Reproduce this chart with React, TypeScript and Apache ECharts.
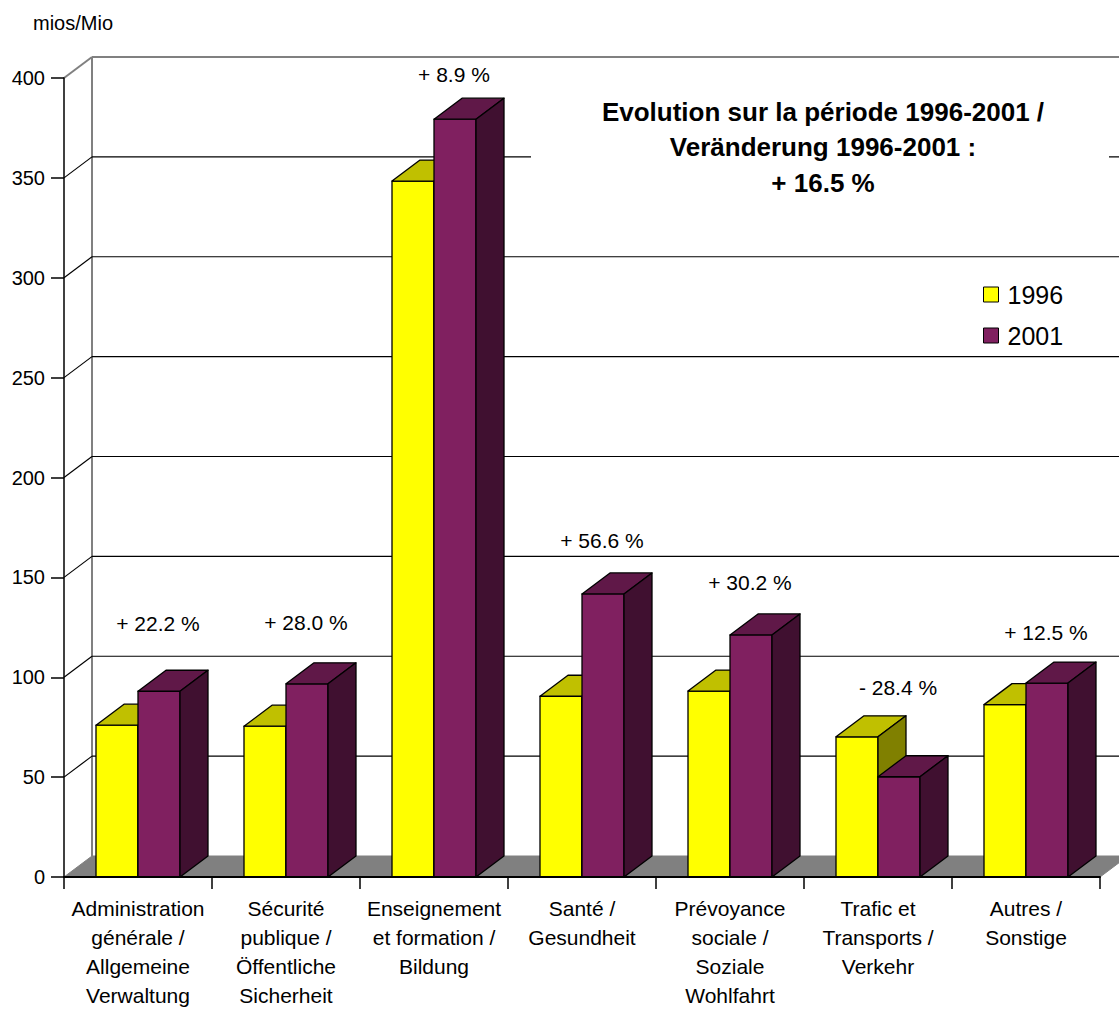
import React, { useEffect, useRef } from "react";
import * as echarts from "echarts";

const categories = [
  "Administration\ngénérale /\nAllgemeine\nVerwaltung",
  "Sécurité\npublique /\nÖffentliche\nSicherheit",
  "Enseignement\net formation /\nBildung",
  "Santé /\nGesundheit",
  "Prévoyance\nsociale /\nSoziale\nWohlfahrt",
  "Trafic et\nTransports /\nVerkehr",
  "Autres /\nSonstige",
];
const values1996 = [76, 75.5, 348.4, 90.5, 93.1, 70.2, 86.3];
const values2001 = [93, 96.7, 379.4, 141.7, 121.2, 50.2, 97.1];
const changeLabels = ["+ 22.2 %", "+ 28.0 %", "+ 8.9 %", "+ 56.6 %", "+ 30.2 %", "- 28.4 %", "+ 12.5 %"];
const yTicks = [0, 50, 100, 150, 200, 250, 300, 350, 400];
const unitLabel = "mios/Mio";
const titleText = "Evolution sur la période 1996-2001 /\nVeränderung 1996-2001 :\n+ 16.5 %";

// styling (not data)
const labelLift = [47, 40, 24, 32, 31, 28, 30];
const FONT = "'Liberation Sans', Arial, Helvetica, sans-serif";
const DX = 28;
const DY = -21;
const BAR_RATIO = 42 / 148;

const yellow = { front: "#FFFF00", top: "#C0C000", side: "#808000" };
const purple = { front: "#802060", top: "#601848", side: "#401030" };

function barSeries(name: string, values: number[], dir: number, c: any) {
  return {
    type: "custom",
    name,
    z: 3,
    clip: false,
    itemStyle: { color: c.front, borderColor: "#000", borderWidth: 1 },
    data: values.map((v, i) => [i, v]),
    encode: { x: 0, y: 1 },
    renderItem: (params: any, api: any) => {
      const idx = api.value(0);
      const v = api.value(1);
      const base = api.coord([idx, 0]);
      const top = api.coord([idx, v]);
      const band = api.size([1, 0])[0];
      const bw = band * BAR_RATIO;
      const x0 = dir < 0 ? base[0] - bw : base[0];
      const x1 = x0 + bw;
      const y0 = base[1];
      const y1 = top[1];
      const st = { stroke: "#000", lineWidth: 1.3, lineJoin: "round" };
      return {
        type: "group",
        children: [
          {
            type: "polygon",
            shape: { points: [[x0, y1], [x1, y1], [x1, y0], [x0, y0]] },
            style: { fill: c.front, ...st },
          },
          {
            type: "polygon",
            shape: { points: [[x0, y1], [x0 + DX, y1 + DY], [x1 + DX, y1 + DY], [x1, y1]] },
            style: { fill: c.top, ...st },
          },
          {
            type: "polygon",
            shape: { points: [[x1, y1], [x1 + DX, y1 + DY], [x1 + DX, y0 + DY], [x1, y0]] },
            style: { fill: c.side, ...st },
          },
        ],
      };
    },
  };
}

export default function App() {
  const ref = useRef<HTMLDivElement>(null);
  useEffect(() => {
    document.body.style.margin = "0";
    const chart = echarts.init(ref.current!, undefined, { renderer: "svg" });
    const option: any = {
      animation: false,
      backgroundColor: "#fff",
      textStyle: { fontFamily: FONT },
      grid: { left: 64, right: 19, top: 78, bottom: 133, containLabel: false, outerBoundsMode: "none" },
      legend: {
        data: ["1996", "2001"],
        orient: "vertical",
        left: 978,
        top: 277,
        itemWidth: 15,
        itemHeight: 15,
        itemGap: 16,
        icon: "rect",
        itemStyle: { borderColor: "#000", borderWidth: 1 },
        textStyle: { fontSize: 25, color: "#000", fontFamily: FONT, padding: [0, 0, 0, 4], lineHeight: 25 },
      },
      xAxis: {
        type: "category",
        data: categories,
        axisLine: { show: true, lineStyle: { color: "#000", width: 2 } },
        axisTick: { show: true, length: 12, lineStyle: { color: "#000", width: 1.5 } },
        axisLabel: {
          interval: 0,
          fontSize: 21,
          lineHeight: 29,
          margin: 17,
          color: "#000",
          fontFamily: FONT,
        },
        splitLine: { show: false },
        z: 10,
      },
      yAxis: {
        type: "value",
        min: 0,
        max: 400,
        interval: 50,
        axisLine: { show: true, lineStyle: { color: "#000", width: 1.5 } },
        axisTick: { show: true, length: 13, lineStyle: { color: "#000", width: 1.5 } },
        axisLabel: { fontSize: 20, margin: 19, color: "#000", fontFamily: FONT },
        splitLine: { show: false },
        z: 10,
      },
      graphic: [
        {
          type: "text",
          left: 33,
          top: 13,
          z: 100,
          style: { text: unitLabel, fontSize: 20, fontFamily: FONT, fill: "#000" },
        },
        {
          type: "rect",
          z: 100,
          shape: { x: 531, y: 94, width: 578, height: 110 },
          style: { fill: "#fff" },
        },
        {
          type: "text",
          x: 823,
          y: 94,
          z: 101,
          style: {
            text: titleText,
            fontSize: 26,
            fontWeight: "bold",
            fontFamily: FONT,
            fill: "#000",
            align: "center",
            verticalAlign: "top",
            lineHeight: 35.5,
          },
        },
      ],
      series: [
        {
          type: "custom",
          name: "walls",
          z: 1,
          clip: false,
          silent: true,
          data: [[0, 0]],
          renderItem: (params: any, api: any) => {
            const cs = params.coordSys;
            const x0 = cs.x;
            const x1 = cs.x + cs.width;
            const yTop = api.coord([0, yTicks[yTicks.length - 1]])[1];
            const yBase = api.coord([0, 0])[1];
            const children: any[] = [
              {
                type: "polygon",
                shape: { points: [[x0, yBase], [x1, yBase], [x1 + DX, yBase + DY], [x0 + DX, yBase + DY]] },
                style: { fill: "#808080", stroke: "#808080", lineWidth: 1 },
              },
              {
                type: "line",
                shape: { x1: x0 + DX, y1: yTop + DY, x2: x0 + DX, y2: yBase + DY },
                style: { stroke: "#808080", lineWidth: 2 },
              },
            ];
            yTicks.forEach((t, i) => {
              if (t === 0) return;
              const y = api.coord([0, t])[1];
              const last = i === yTicks.length - 1;
              const col = last ? "#808080" : "#000";
              children.push({
                type: "line",
                shape: { x1: x0, y1: y, x2: x0 + DX, y2: y + DY },
                style: { stroke: col, lineWidth: last ? 2 : 1.2 },
              });
              children.push({
                type: "line",
                shape: { x1: x0 + DX, y1: y + DY, x2: x1 + DX + 40, y2: y + DY },
                style: { stroke: col, lineWidth: last ? 2 : 1.2 },
              });
            });
            return { type: "group", children };
          },
        },
        barSeries("1996", values1996, -1, yellow),
        barSeries("2001", values2001, 1, purple),
        {
          type: "custom",
          name: "changes",
          z: 4,
          clip: false,
          silent: true,
          data: changeLabels.map((_, i) => [i, Math.max(values1996[i], values2001[i])]),
          renderItem: (params: any, api: any) => {
            const i = api.value(0);
            const p = api.coord([i, api.value(1)]);
            return {
              type: "text",
              x: p[0] + 20,
              y: p[1] + DY - labelLift[i],
              style: {
                text: changeLabels[i],
                fontSize: 21,
                fontFamily: FONT,
                fill: "#000",
                align: "center",
                verticalAlign: "middle",
              },
            };
          },
        },
      ],
    };
    chart.setOption(option);
    return () => chart.dispose();
  }, []);
  return <div ref={ref} style={{ width: 1119, height: 1010 }} />;
}
